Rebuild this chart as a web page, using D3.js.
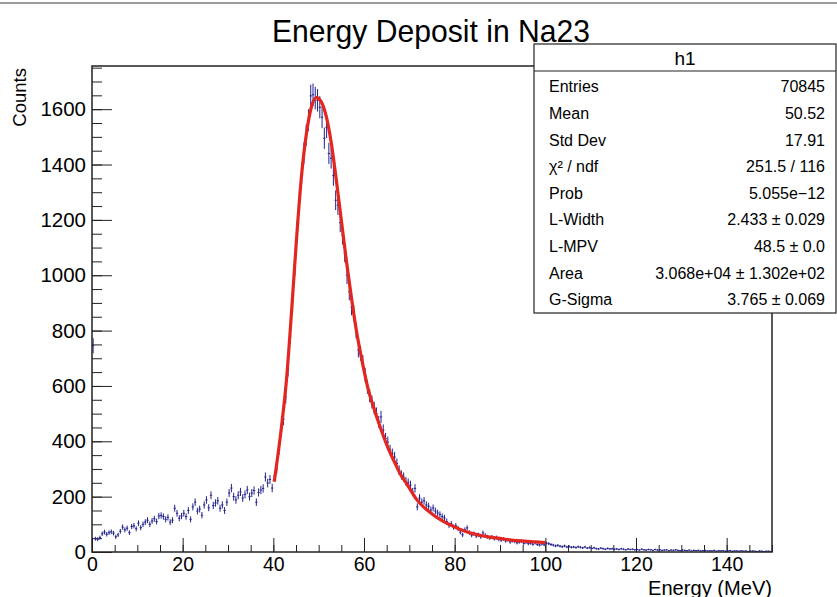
<!DOCTYPE html>
<html>
<head>
<meta charset="utf-8">
<script src="https://cdn.jsdelivr.net/npm/d3@7"></script>
<style>
  body { margin: 0; background: #fff; }
  svg { display: block; font-family: "Liberation Sans", Arial, Helvetica, sans-serif; }
</style>
</head>
<body>
<div id="chart"></div>
<script>
const WIDTH = 837, HEIGHT = 597;
const FRAME = { LEFT: 92, RIGHT: 772, TOP: 66, BOTTOM: 552 };

// histogram h1 : 300 bins of 0.5 MeV, 0 -> 150 MeV
const X_MIN = 0, X_MAX = 150, Y_MAX = 1756;
const BIN_WIDTH = 0.5;
const counts = [
  745, 48, 46, 52, 66, 72, 64, 70, 73, 68,
  55, 62, 75, 90, 80, 86, 70, 92, 95, 84,
  104, 88, 100, 108, 115, 100, 112, 120, 110, 130,
  132, 128, 118, 125, 108, 115, 158, 140, 122, 130,
  140, 128, 150, 118, 163, 180, 148, 155, 133, 170,
  188, 160, 205, 168, 177, 185, 158, 170, 150, 180,
  213, 231, 200, 188, 205, 217, 195, 208, 224, 200,
  213, 222, 180, 215, 224, 230, 271, 249, 262, 231,
  275, 300, 370, 440, 480, 560, 660, 780, 905, 1029,
  1163, 1271, 1369, 1441, 1506, 1560, 1648, 1652, 1640, 1632,
  1607, 1571, 1495, 1535, 1440, 1423, 1360, 1271, 1253, 1190,
  1145, 1080, 1000, 940, 885, 863, 800, 730, 718, 686,
  640, 596, 565, 542, 520, 500, 470, 488, 440, 410,
  397, 368, 355, 343, 320, 296, 278, 271, 255, 250,
  242, 217, 230, 163, 195, 180, 185, 170, 165, 152,
  159, 148, 141, 135, 128, 123, 110, 97, 102, 90,
  95, 85, 72, 62, 80, 87, 70, 61, 66, 58,
  62, 55, 69, 60, 55, 51, 54, 48, 52, 45,
  43, 47, 40, 44, 36, 41, 38, 33, 36, 39,
  31, 35, 30, 32, 28, 33, 27, 25, 29, 26,
  32, 30, 27, 25, 22, 24, 21, 19, 22, 18,
  20, 17, 18, 16, 19, 17, 15, 18, 14, 16,
  13, 15, 12, 11, 14, 12, 10, 13, 11, 12,
  10, 11, 9, 12, 10, 8, 11, 9, 10, 8,
  9, 7, 10, 8, 7, 9, 8, 6, 9, 7,
  8, 6, 7, 8, 5, 7, 6, 8, 6, 5,
  7, 6, 5, 7, 4, 6, 5, 6, 4, 5,
  6, 4, 5, 4, 6, 3, 5, 4, 5, 3,
  4, 5, 3, 4, 4, 3, 5, 3, 4, 2,
  3, 4, 3, 2, 4, 3, 2, 3, 3, 2
];

// Landau (x) Gauss fit (40 - 100 MeV)
const fitEnergy = [40.2, 41.8, 42.9, 44.0, 45.1, 46.2, 47.3, 48.4, 49.5, 50.6,
  51.7, 52.8, 53.9, 55.0, 56.1, 57.2, 58.3, 59.4, 60.8, 62.3,
  63.8, 65.2, 66.7, 68.0, 69.6, 71.6, 75.3, 79.0, 82.6, 86.3,
  90.0, 93.7, 97.4, 100.0];
const fitCounts = [254, 453, 622, 864, 1127, 1356, 1512, 1608, 1642, 1626,
  1572, 1476, 1343, 1199, 1054, 922, 802, 705, 597, 513,
  441, 380, 326, 282, 242, 190, 134, 98, 73, 58,
  49, 41, 37, 34];

const xTicks = [0, 20, 40, 60, 80, 100, 120, 140];
const xMinorTicks = d3.range(0, 151, 5);
const yTicks = [0, 200, 400, 600, 800, 1000, 1200, 1400, 1600];
const yMinorTicks = d3.range(0, 1751, 50);

const statsTitle = "h1";
const statsNames = ["Entries", "Mean", "Std Dev", "χ² / ndf", "Prob", "L-Width", "L-MPV", "Area", "G-Sigma"];
const statsValues = ["70845", "50.52", "17.91", "251.5 / 116", "5.055e\u221212", "2.433 ± 0.029", "48.5 ± 0.0", "3.068e+04 ± 1.302e+02", "3.765 ± 0.069"];

const svg = d3.select("#chart")
  .append("svg")
  .attr("width", WIDTH)
  .attr("height", HEIGHT);

svg.append("rect").attr("width", WIDTH).attr("height", HEIGHT).attr("fill", "#fff");
svg.append("line")
  .attr("x1", 0).attr("x2", WIDTH).attr("y1", 3).attr("y2", 3)
  .attr("stroke", "#9a9a9a").attr("stroke-width", 2);

const x = d3.scaleLinear().domain([X_MIN, X_MAX]).range([FRAME.LEFT, FRAME.RIGHT]);
const y = d3.scaleLinear().domain([0, Y_MAX]).range([FRAME.BOTTOM, FRAME.TOP]);

const styleLabels = size => g => g.selectAll("text")
  .attr("font-size", size).attr("fill", "#000")
  .attr("font-family", "Liberation Sans, Arial, sans-serif");

// ticks (ROOT style, inside the frame)
svg.append("g")
  .attr("transform", `translate(0,${FRAME.BOTTOM})`)
  .call(d3.axisBottom(x).tickValues(xMinorTicks).tickSize(-7).tickSizeOuter(0).tickFormat(""))
  .call(g => g.select(".domain").remove())
  .call(g => g.selectAll("line").attr("stroke", "#222"));

svg.append("g")
  .attr("transform", `translate(0,${FRAME.BOTTOM})`)
  .call(d3.axisBottom(x).tickValues(xTicks).tickSize(-14).tickSizeOuter(0).tickPadding(5).tickFormat(d3.format("d")))
  .call(g => g.select(".domain").remove())
  .call(g => g.selectAll("line").attr("stroke", "#222"))
  .call(styleLabels(19.5));

svg.append("g")
  .attr("transform", `translate(${FRAME.LEFT},0)`)
  .call(d3.axisLeft(y).tickValues(yMinorTicks).tickSize(-10).tickSizeOuter(0).tickFormat(""))
  .call(g => g.select(".domain").remove())
  .call(g => g.selectAll("line").attr("stroke", "#222"));

svg.append("g")
  .attr("transform", `translate(${FRAME.LEFT},0)`)
  .call(d3.axisLeft(y).tickValues(yTicks).tickSize(-20).tickSizeOuter(0).tickPadding(6).tickFormat(d3.format("d")))
  .call(g => g.select(".domain").remove())
  .call(g => g.selectAll("line").attr("stroke", "#222"))
  .call(styleLabels(20.5));

// error bars
const ERR_COLOR = "#22228c";
const bars = svg.append("g").attr("stroke", ERR_COLOR).attr("stroke-width", 1);

bars.selectAll("line.ex")
  .data(counts)
  .join("line")
  .attr("class", "ex")
  .attr("x1", (d, i) => x(i * BIN_WIDTH))
  .attr("x2", (d, i) => x((i + 1) * BIN_WIDTH))
  .attr("y1", d => y(d))
  .attr("y2", d => y(d));

bars.selectAll("line.ey")
  .data(counts)
  .join("line")
  .attr("class", "ey")
  .attr("x1", (d, i) => x((i + 0.5) * BIN_WIDTH))
  .attr("x2", (d, i) => x((i + 0.5) * BIN_WIDTH))
  .attr("y1", d => y(Math.max(0, d - Math.sqrt(d))))
  .attr("y2", d => y(d + Math.sqrt(d)));

// fit curve
const fitLine = d3.line()
  .x((d, i) => x(fitEnergy[i]))
  .y(d => y(d))
  .curve(d3.curveMonotoneX);

svg.append("path")
  .datum(fitCounts)
  .attr("d", fitLine)
  .attr("fill", "none")
  .attr("stroke", "#e3261f")
  .attr("stroke-width", 3.2)
  .attr("stroke-linejoin", "round");

// frame
svg.append("rect")
  .attr("x", FRAME.LEFT).attr("y", FRAME.TOP)
  .attr("width", FRAME.RIGHT - FRAME.LEFT)
  .attr("height", FRAME.BOTTOM - FRAME.TOP)
  .attr("fill", "none").attr("stroke", "#222").attr("stroke-width", 1.5);

// titles
svg.append("text")
  .attr("x", 431).attr("y", 42)
  .attr("text-anchor", "middle")
  .attr("font-size", 32)
  .attr("textLength", 318)
  .attr("lengthAdjust", "spacingAndGlyphs")
  .text("Energy Deposit in Na23");

svg.append("text")
  .attr("transform", "translate(26,68) rotate(-90)")
  .attr("text-anchor", "end")
  .attr("font-size", 18.5)
  .text("Counts");

svg.append("text")
  .attr("x", FRAME.RIGHT).attr("y", 594.5)
  .attr("text-anchor", "end")
  .attr("font-size", 20)
  .attr("textLength", 124)
  .attr("lengthAdjust", "spacingAndGlyphs")
  .text("Energy (MeV)");

// stats box
const BOX = { LEFT: 534, RIGHT: 836, TOP: 44, HEAD: 71, BOTTOM: 313 };
const stats = svg.append("g");
stats.append("rect")
  .attr("x", BOX.LEFT).attr("y", BOX.TOP)
  .attr("width", BOX.RIGHT - BOX.LEFT).attr("height", BOX.BOTTOM - BOX.TOP)
  .attr("fill", "#fff").attr("stroke", "#222").attr("stroke-width", 1.2);
stats.append("line")
  .attr("x1", BOX.LEFT).attr("x2", BOX.RIGHT)
  .attr("y1", BOX.HEAD).attr("y2", BOX.HEAD)
  .attr("stroke", "#222").attr("stroke-width", 1.2);
stats.append("text")
  .attr("x", (BOX.LEFT + BOX.RIGHT) / 2).attr("y", 65)
  .attr("text-anchor", "middle").attr("font-size", 19)
  .text(statsTitle);

const rowY = i => 92.3 + i * 26.6;
stats.selectAll("text.name")
  .data(statsNames)
  .join("text")
  .attr("class", "name")
  .attr("x", 549).attr("y", (d, i) => rowY(i))
  .attr("font-size", 16)
  .text(d => d);
stats.selectAll("text.value")
  .data(statsValues)
  .join("text")
  .attr("class", "value")
  .attr("x", 825).attr("y", (d, i) => rowY(i))
  .attr("text-anchor", "end")
  .attr("font-size", 16)
  .text(d => d);
</script>
</body>
</html>
